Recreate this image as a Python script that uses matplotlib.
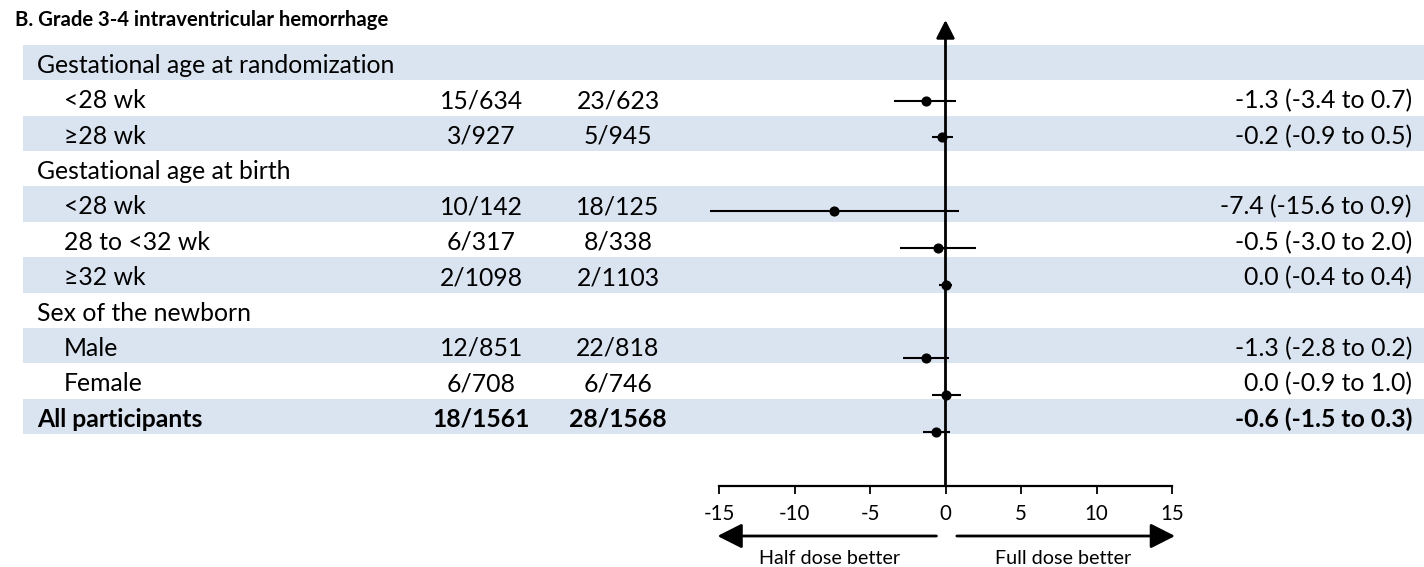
import numpy as np
import matplotlib
matplotlib.use("Agg")
import matplotlib.pyplot as plt

plt.rcParams['font.family'] = ['Lato', 'DejaVu Sans']

title = "B. Grade 3-4 intraventricular hemorrhage"
labels = ["Gestational age at randomization", "<28 wk", "\u226528 wk",
          "Gestational age at birth", "<28 wk", "28 to <32 wk", "\u226532 wk",
          "Sex of the newborn", "Male", "Female", "All participants"]
is_header = [True, False, False, True, False, False, False, True, False, False, False]
half_dose = ["", "15/634", "3/927", "", "10/142", "6/317", "2/1098", "", "12/851", "6/708", "18/1561"]
full_dose = ["", "23/623", "5/945", "", "18/125", "8/338", "2/1103", "", "22/818", "6/746", "28/1568"]
est = [np.nan, -1.3, -0.2, np.nan, -7.4, -0.5, 0.0, np.nan, -1.3, 0.0, -0.6]
lo = [np.nan, -3.4, -0.9, np.nan, -15.6, -3.0, -0.4, np.nan, -2.8, -0.9, -1.5]
hi = [np.nan, 0.7, 0.5, np.nan, 0.9, 2.0, 0.4, np.nan, 0.2, 1.0, 0.3]
xticks = [-15, -10, -5, 0, 5, 10, 15]
left_label = "Half dose better"
right_label = "Full dose better"

W, H = 1424, 567
band_color = '#dae3f0'
n = len(labels)
rows = np.arange(n)

fig = plt.figure(figsize=(W / 100, H / 100), dpi=100)
fig.patch.set_facecolor('white')

# table part: x in pixels, y in row units
tbl_top, tbl_bot = 45, 434
ax_t = fig.add_axes([0, 1 - tbl_bot / H, 1, (tbl_bot - tbl_top) / H])
ax_t.set_xlim(0, W)
ax_t.set_ylim(n - 0.5, -0.5)
ax_t.axis('off')

shaded = rows[rows % 2 == 0]
ax_t.barh(shaded, W - 23, left=23, height=1.0, color=band_color, zorder=0)

body_fs = 17.8
for r in rows:
    bold = labels[r] == "All participants"
    fw = 'bold' if bold else 'normal'
    x = 37 if (is_header[r] or bold) else 64
    y = r + 0.08
    ax_t.text(x, y, labels[r], ha='left', va='center', fontsize=body_fs, fontweight=fw)
    if half_dose[r]:
        ax_t.text(481.5, y, half_dose[r], ha='center', va='center', fontsize=body_fs, fontweight=fw)
        ax_t.text(618, y, full_dose[r], ha='center', va='center', fontsize=body_fs, fontweight=fw)
    if not np.isnan(est[r]):
        txt = f"{est[r]:.1f} ({lo[r]:.1f} to {hi[r]:.1f})"
        ax_t.text(1412, y, txt, ha='right', va='center', fontsize=body_fs, fontweight=fw)

fig.text(15 / W, 1 - 20 / H, title, ha='left', va='center', fontsize=14.6, fontweight='bold')

# forest part
x_left, x_right = 719, 1172
y_first, step = 100.7, 36.78
ax_top, ax_bot = 20, 485.5
r_top = 1 + (ax_top - y_first) / step
r_bot = 1 + (ax_bot - y_first) / step
ax_f = fig.add_axes([x_left / W, 1 - ax_bot / H, (x_right - x_left) / W, (ax_bot - ax_top) / H])
ax_f.set_xlim(-15, 15)
ax_f.set_ylim(r_bot, r_top)
ax_f.patch.set_alpha(0)
for s in ['top', 'right', 'left']:
    ax_f.spines[s].set_visible(False)
ax_f.spines['bottom'].set_linewidth(1.6)
ax_f.set_yticks([])
ax_f.set_xticks(xticks)
ax_f.set_xticklabels([str(t) for t in xticks])
ax_f.tick_params(axis='x', direction='out', length=5.5, width=1.3, pad=8, labelsize=14.8)

ax_f.annotate('', xy=(0, 1), xytext=(0, 0), xycoords=ax_f.get_xaxis_transform(),
              textcoords=ax_f.get_xaxis_transform(),
              arrowprops=dict(arrowstyle='-|>,head_length=0.55,head_width=0.28',
                              lw=2, color='black', mutation_scale=20, shrinkA=0, shrinkB=0))

e = np.array(est)
ax_f.hlines(rows, lo, hi, color='black', lw=1.5, clip_on=False, zorder=3)
ax_f.plot(e, rows, 'o', color='black', markersize=6.3, clip_on=False, zorder=4)

# direction arrows below the axis
arr_y = H - 536
for tail, tip in [(-0.6, -15.1), (0.75, 15.2)]:
    ax_f.annotate('', xy=(tip, arr_y), xytext=(tail, arr_y),
                  xycoords=('data', 'figure pixels'), textcoords=('data', 'figure pixels'),
                  arrowprops=dict(arrowstyle='-|>,head_length=0.75,head_width=0.38',
                                  lw=2, color='black', mutation_scale=20, shrinkA=0, shrinkB=0),
                  annotation_clip=False)
ax_f.annotate(left_label, xy=(-7.7, H - 559), xycoords=('data', 'figure pixels'),
              ha='center', va='center', fontsize=14.2, annotation_clip=False)
ax_f.annotate(right_label, xy=(7.8, H - 559), xycoords=('data', 'figure pixels'),
              ha='center', va='center', fontsize=14.2, annotation_clip=False)

fig.savefig('out.png', dpi=100, facecolor='white')
